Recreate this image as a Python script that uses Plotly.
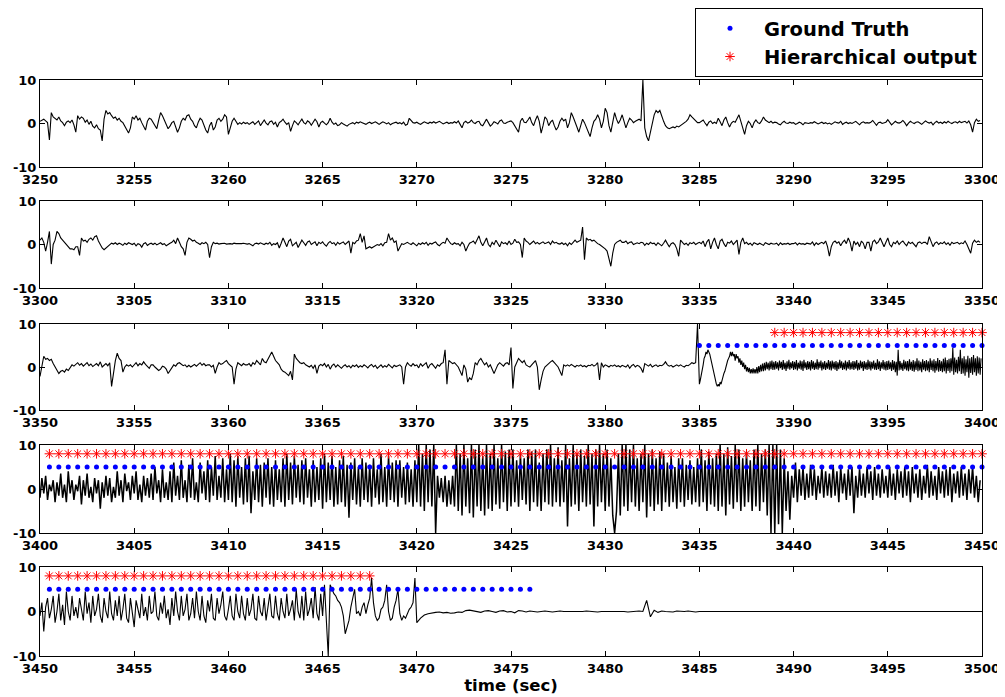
import numpy as np
import plotly.graph_objects as go

# ---------------- data ----------------
# Panel 1: 3250-3300 s, 10 samples/s
p1_start, p1_rate = 3250.0, 10
p1_vals = [
    0.5, 0.8, 1.0, 0.6, 0.2, -3.8, 2.5, 1.5, 1.2, 0.8,
    1.5, 0.6, 0.2, -0.5, 0.3, 0.6, 0.2, 0.8, -0.3, -2.0,
    1.8, 1.0, 1.5, 1.2, 0.3, 0.8, -0.2, 0.5, -0.6, -1.0,
    -0.3, -1.2, -1.5, -4.0, 1.0, 3.0, 2.2, 2.5, 1.8, 1.2,
    1.5, 0.8, 1.2, 0.5, 0.2, -0.5, -1.5, -2.2, -1.0, 1.5,
    1.0, 1.8, 0.8, 1.2, 0.2, -0.8, -1.5, 0.5, 1.2, 1.0,
    0.2, -0.5, -1.2, 0.8, 2.5, 1.8, 0.8, -0.3, -1.2, -0.6,
    0.2, 0.5, -0.8, -2.0, -1.0, 0.5, 1.2, 0.8, 1.8, 2.0,
    1.0, 0.5, -0.5, -1.0, 0.3, 1.2, 0.8, -0.5, -1.5, -2.2,
    -0.5, 0.3, -1.5, -0.8, 0.8, 1.2, 0.5, 1.0, 2.0, 1.5,
    -2.5, -1.0, 0.5, 1.2, 0.3, -0.2, 0.2, -0.1, 0.3, 0.0,
    0.2, -0.2, 0.1, 0.4, -0.2, 0.3, 0.6, -0.5, 0.2, 0.8,
    0.1, -0.3, 0.4, 0.6, -0.2, 0.3, -0.8, 0.2, 0.5, 1.0,
    0.3, -0.2, 0.2, -1.8, -0.5, 0.6, 0.2, -0.3, 0.4, 1.0,
    0.2, -0.1, 0.6, 0.3, -0.4, 0.2, 1.0, 0.4, -0.8, 0.2,
    0.5, 0.1, -0.3, 0.2, 1.2, 0.3, -0.2, 0.1, -0.5, -0.3,
    0.2, -0.1, -0.3, -0.6, -0.2, 0.0, 0.2, -0.1, 0.3, 0.1,
    0.4, 0.2, 0.0, -0.2, 0.1, 0.3, 0.0, 0.2, 0.4, 0.1,
    -0.2, 0.1, 0.4, 0.2, -0.1, 0.2, -0.3, 0.0, 0.2, 0.3,
    0.0, 0.2, -0.1, 0.3, -0.4, -0.2, 1.2, 0.6, 0.2, 0.1,
    0.3, 0.0, -0.2, 0.1, 0.4, 0.2, 0.0, 0.3, 0.1, 0.4,
    0.1, 0.3, 0.5, 0.2, -0.1, 0.1, 0.3, 0.0, 0.2, 0.1,
    0.4, 0.1, 0.6, -0.2, -1.0, 0.2, 0.5, 0.1, 0.3, 0.8,
    0.2, 0.0, 0.4, 0.5, -0.3, -0.5, 0.3, 1.0, 0.2, -0.6,
    -0.2, 0.4, 0.2, -0.1, 0.6, 0.8, 0.1, 0.0, 0.3, 0.5,
    0.6, 0.2, -0.5, -1.0, -2.0, 0.5, 1.2, 0.3, 0.2, 0.8,
    1.5, 0.2, -0.5, 0.8, 1.8, 0.5, -2.2, -0.5, 1.5, 1.0,
    -0.5, 0.3, 0.8, -0.5, -1.5, -0.8, 0.5, 1.2, 0.6, 1.0,
    -1.0, 0.2, 2.5, 1.5, 0.5, -0.8, -2.0, -0.5, 1.0, 0.2,
    -0.8, -2.0, -3.0, -1.0, 0.5, 1.0, 2.0, 1.0, -1.0, 0.5,
    3.5, 2.5, -0.5, -2.0, 0.5, 2.5, 1.0, 0.0, 0.8, 2.0,
    0.5, -1.0, 0.2, 1.2, 0.8, 0.2, 0.5, 0.8, 1.0, 0.6,
    10.0, -1.0, -3.0, -4.0, -2.0, 0.5, 2.0, 3.0, 2.5, 3.0,
    1.5, 0.5, -0.5, -1.0, -1.2, -1.0, -0.8, -1.0, -0.6, -0.8,
    -0.5, -0.2, 0.0, 0.5, 1.0, 2.0, 1.5, 1.0, 0.5, 0.2,
    0.2, 0.6, 0.8, 0.1, -0.5, 0.3, 0.6, 0.0, 0.3, 0.0,
    1.2, 0.4, -0.5, 0.8, 1.5, 0.2, -0.8, 0.1, 0.5, 0.3,
    1.0, 2.0, 0.5, -1.0, -2.5, -0.5, 0.5, 0.0, -1.0, 0.2,
    0.8, 0.2, 0.0, 0.6, 1.5, 0.8, 0.4, 0.2, 0.5, 0.1,
    0.3, 0.2, -0.1, -0.3, 0.2, 0.5, 0.1, 0.0, 0.3, 0.1,
    0.2, -0.2, 0.0, 0.3, 0.1, -0.3, 0.2, 0.1, 0.0, 0.2,
    0.1, 0.4, 0.2, -0.1, 0.1, 0.3, 0.0, 0.2, -0.1, 0.1,
    -0.2, 0.1, 0.4, 0.2, 0.1, 0.5, -0.2, 0.1, 0.3, 0.0,
    0.2, 0.0, 0.3, 0.5, 0.1, -0.3, 0.2, 0.4, 0.1, 0.2,
    0.1, 0.3, 0.7, 0.1, -0.4, 0.2, 0.3, 0.0, 0.1, 0.3,
    0.9, 0.3, -0.3, 0.1, 0.5, 0.2, 0.1, 0.3, 0.7, 0.2,
    -0.5, 0.1, 0.5, 0.2, 0.0, 0.3, 0.4, 0.1, -0.2, 0.2,
    0.6, 0.3, 0.1, 0.3, -0.3, 0.2, 0.5, 0.1, 0.3, 0.0,
    0.4, 0.1, 0.5, 0.2, 0.0, 0.3, 0.4, 0.1, 0.5, 0.2,
    0.3, 0.5, 0.1, 0.6, -0.3, -2.0, 0.2, 1.0, 0.5, 0.7,
]

# Panel 2: 3300-3350 s, 10 samples/s
p2_start, p2_rate = 3300.0, 10
p2_vals = [
    1.0, 1.5, 0.5, -1.5, 0.5, 3.0, -4.5, 0.0, 1.0, 3.0,
    2.5, 1.5, 1.0, 0.5, 0.0, -0.5, -1.0, -1.0, -1.2, -0.5,
    -0.5, -2.5, 1.5, 0.8, 1.0, 0.5, 1.2, 1.5, 1.0, 1.8,
    2.0, 0.8, 0.0, -0.8, -1.2, -0.8, -0.5, 0.0, 0.3, 0.1,
    0.4, 0.0, 0.3, 0.1, -0.2, 0.3, 0.0, 0.4, 0.2, 0.0,
    0.3, -0.3, 0.2, 0.0, -0.6, 0.2, 0.4, -0.2, 0.1, 0.3,
    0.0, 0.3, -0.1, 0.2, 0.4, 0.0, 0.2, -0.3, 0.1, 0.3,
    0.5, 1.0, 0.2, 1.5, 0.5, -0.5, -1.0, -2.5, 0.5, 1.5,
    1.2, 0.8, 1.0, 0.5, 0.3, 0.0, 0.4, 0.2, 0.5, 0.0,
    -3.0, -0.5, 0.5, 0.2, 0.3, 0.1, 0.2, 0.2, 0.3, 0.1,
    0.2, 0.2, 0.1, 0.3, 0.2, 0.2, 0.1, 0.2, 0.3, 0.2,
    0.1, 0.2, 0.0, -0.3, 0.2, 0.3, 0.1, 0.4, 0.2, 0.0,
    0.3, 0.1, 0.5, -0.2, 0.2, 0.0, 0.4, -0.8, 0.3, 1.5,
    0.5, -0.5, 0.8, 1.2, -0.3, 0.2, 0.5, -0.7, 0.3, 1.0,
    0.4, -0.2, 0.6, 0.8, 0.0, 0.3, 0.6, -0.3, 0.5, 0.2,
    0.6, 0.0, -0.4, 0.3, 0.7, 0.2, 0.4, -0.2, 0.5, 0.1,
    0.3, 0.6, 0.0, 0.4, 0.8, -2.0, 0.5, 0.2, 0.8, 1.0,
    2.5, 0.5, 2.0, -1.0, -0.8, -0.5, -0.8, -0.5, -0.3, 0.0,
    -0.2, 0.2, -0.3, 0.4, 0.5, 2.5, 1.0, 1.5, 0.5, 0.8,
    -1.5, -0.5, 0.2, 0.0, 0.3, 0.5, 0.2, 0.0, 0.4, 0.1,
    -0.3, 0.3, 0.0, 0.4, 0.1, 0.5, -0.2, 0.3, 0.1, 0.4,
    0.6, 0.0, -0.3, 0.2, 0.5, 0.3, 1.5, 0.8, 0.2, 0.0,
    0.4, 0.1, 0.2, -0.3, 0.5, 0.0, -1.5, -0.5, 0.3, 0.5,
    0.8, 0.2, 1.0, 2.0, 0.5, -0.3, 0.6, 1.5, 0.0, -0.5,
    0.5, 0.0, 1.0, 0.3, -0.5, 0.6, 0.2, 0.4, 0.0, 0.8,
    0.0, 0.3, 1.2, 0.5, 0.6, 0.0, -3.0, 1.5, 0.8, 0.5,
    0.0, 0.4, 0.8, 0.2, 0.5, 0.1, 0.3, 0.6, 0.2, 0.4,
    0.6, 0.0, 0.8, 0.3, 0.5, 0.2, 0.1, 0.4, 0.0, 0.3,
    -0.3, 0.4, 0.0, 0.5, 1.0, 0.5, 0.8, 1.0, 4.0, -3.5,
    1.5, 1.0, 1.2, 0.8, 1.0, 0.5, 0.2, 0.0, -0.3, -0.8,
    -1.0, -1.5, -3.0, -5.0, -2.0, 0.0, 0.5, 0.8, 1.0, 0.5,
    0.5, 0.8, 0.2, 0.5, 0.6, 0.0, 0.3, 0.4, 0.2, 0.5,
    0.4, -0.2, 0.3, 0.0, 0.5, 0.2, 0.3, -0.2, 0.4, 0.1,
    -0.3, 0.3, 1.0, 0.2, -0.5, 0.2, 0.4, 0.0, -1.0, -2.7,
    1.0, 0.5, 0.0, 0.3, -0.2, 0.4, 0.2, 0.5, 0.0, 0.3,
    0.5, 0.2, 0.8, -0.5, 0.6, 1.2, -1.0, 0.5, 1.5, 0.0,
    -1.0, 0.8, 1.2, 0.2, -0.5, 0.5, 0.3, 0.8, 0.0, 0.5,
    1.0, -2.3, 0.5, 1.5, 0.2, 0.5, 0.0, 0.3, -0.2, 0.4,
    0.2, 0.0, 0.3, 0.1, -0.2, 0.4, 0.2, 0.0, 0.3, 0.1,
    0.1, 0.3, -0.2, 0.4, 0.0, 0.2, 0.1, 0.3, 0.0, 0.2,
    0.2, 0.4, -0.1, 0.3, 0.1, 0.2, 0.0, 0.3, 0.2, 0.1,
    0.6, -0.2, 0.4, 0.0, 0.3, 0.5, 0.2, 0.8, -0.5, -2.7,
    -0.5, 0.5, 0.8, 0.3, 0.6, -0.3, 0.5, 1.0, 0.2, 1.5,
    0.5, -1.5, 0.8, 0.0, 0.5, -0.5, 0.8, 0.3, -1.0, 0.5,
    0.5, -1.5, 0.6, 1.0, 0.2, 0.6, 1.5, 0.3, -0.5, 0.5,
    1.5, 0.0, -0.5, 0.5, 0.2, 0.8, 0.0, 0.5, 0.8, 0.2,
    -0.3, 0.6, 0.2, 0.5, 0.0, -0.5, 0.4, 0.6, 0.2, 0.5,
    0.5, 0.0, 1.8, 0.8, -0.5, 0.3, 0.6, 0.0, 0.4, 0.2,
    0.6, 0.0, 0.4, -0.2, 0.5, 0.2, 0.3, 0.5, 0.1, 0.4,
    0.2, 0.8, 0.0, -1.0, -2.0, 0.3, 1.0, 0.5, 0.8, 0.5,
]

# Panel 3a: 3350-3385 s, 10 samples/s
p3a_start, p3a_rate = 3350.0, 10
p3a_vals = [
    -2.2, 0.5, 2.5, 1.8, 2.0, 1.5, 1.8, 0.8, 0.0, -1.0,
    -1.5, -1.0, -0.8, -1.2, -0.5, -0.8, 0.0, 0.5, 0.2, 0.6,
    1.0, 0.4, 0.8, 0.2, 0.6, 1.0, 0.3, 0.7, 0.1, 0.5,
    0.8, 0.3, 1.2, 0.0, 0.5, 0.8, 0.3, 1.0, -4.5, -1.0,
    1.5, 3.2, 2.0, 1.5, -1.2, 0.0, 0.5, 0.2, 0.5, 0.0,
    0.4, 1.0, 0.3, 0.8, 0.5, 1.2, 0.6, 0.2, -0.3, 0.5,
    0.5, 0.0, -0.3, -0.8, -0.5, 0.2, 0.0, -0.5, -1.5, -0.8,
    0.0, 0.5, 0.2, 0.8, 1.0, 0.6, 0.3, 0.5, 0.0, 0.4,
    0.0, 0.3, 0.6, 0.2, 0.5, 1.0, 0.4, 0.8, 0.3, 0.5,
    0.5, 0.0, 0.4, -1.5, 0.0, 1.0, 0.6, 0.8, 1.2, 1.5,
    0.8, 0.5, 0.0, -4.0, -0.5, 1.0, 0.6, 0.3, 0.8, 0.5,
    0.5, 0.8, 0.2, 1.0, 0.6, 1.5, 1.0, 0.5, 2.0, 1.2,
    1.0, 1.8, 2.5, 3.5, 2.5, 1.5, 1.0, 0.5, -0.5, -1.0,
    -1.2, -1.5, -2.0, -1.0, -3.0, 3.0, 2.0, 1.5, 1.0, 0.8,
    1.0, 0.5, 0.2, 0.0, 0.4, -0.3, 0.5, -1.5, 0.2, 0.6,
    0.3, 0.8, 0.0, 0.6, -0.5, 0.3, 0.7, 0.0, 0.5, 0.2,
    -0.3, 0.2, 0.5, 0.0, 0.3, -0.2, 0.4, 0.1, 0.5, -0.1,
    0.3, 0.0, 0.5, 0.2, -0.2, 0.3, 0.6, 0.0, 0.4, -0.3,
    0.2, 0.5, -0.1, 0.3, 0.0, 0.6, 0.2, -0.2, 0.4, 0.1,
    0.3, 0.5, 0.0, -4.0, 0.0, 1.0, 0.5, 0.2, 0.8, 0.3,
    0.5, -0.2, 0.8, 0.2, 0.6, 1.0, -0.3, 0.5, 0.8, 0.2,
    -0.3, 0.5, 0.2, 0.8, 1.0, 4.0, -4.0, 1.5, 1.2, 0.8,
    1.0, 0.5, 0.0, -1.0, -2.0, 0.5, -0.5, -3.5, -2.5, -3.0,
    -1.5, 1.0, 0.5, 1.5, 2.0, 1.2, 0.5, 1.0, 0.0, 0.5,
    -0.5, -1.5, -0.5, 0.5, 1.0, 0.5, 0.2, 0.8, 1.0, 0.5,
    4.5, -5.0, 0.0, 1.0, 2.0, 1.5, 1.0, 1.5, 0.5, 0.2,
    0.0, 0.5, 1.0, 1.5, 0.0, -5.3, -3.0, -1.0, 0.0, 0.5,
    0.8, 1.2, 1.5, 1.0, 0.5, 0.0, -1.0, -2.0, 0.5, 0.2,
    0.5, 0.2, 0.6, 0.3, 0.0, 0.4, 0.2, 0.5, 0.1, 0.3,
    0.0, 0.4, 0.3, 0.6, 0.2, 0.5, 1.0, -3.0, 1.0, 0.0,
    0.5, 0.3, 0.0, 0.4, 0.2, 0.5, 0.1, 0.3, 0.0, 0.4,
    0.2, 0.0, 0.5, -0.3, 0.3, 0.6, 0.0, 0.4, 0.2, -0.3,
    -1.3, 0.8, 0.5, 0.2, 0.6, 0.0, 0.3, 0.5, 0.1, 0.4,
    0.3, 0.6, 1.2, 0.5, 0.2, 0.4, 0.0, 0.3, 0.5, 0.2,
    0.5, 0.2, 0.0, 0.4, 0.3, 0.6, 1.0, 0.8, 1.0, 10.0,
]

# Panel 3b: 3385-3400 s, 20 samples/s
p3b_start, p3b_rate = 3385.0, 20
p3b_vals = [
    -4.0, -3.0, -2.0, -0.5, 0.5, 2.0, 2.5, 3.5, 3.0, 4.0, 3.5, 3.0, 2.0, 1.0, -0.5, -1.5, -2.5, -3.5, -4.0, -4.5,
    -4.0, -4.5, -3.5, -4.0, -3.0, -2.5, -1.5, -1.0, 0.0, 0.5, 1.5, 2.0, 2.5, 3.5, 2.5, 3.5, 2.5, 3.0, 1.5, 3.0,
    2.0, 2.5, 1.0, 2.0, 0.5, 1.5, 0.0, 1.0, -0.5, 0.5, -1.0, 0.0, -1.2, -0.2, -1.5, -0.5, -1.5, -0.3, -1.5, -0.5,
    -1.5, 0.0, -1.5, 0.2, -1.2, 0.5, -1.0, 0.8, -1.0, 1.0, -0.8, 1.2, -0.5, 1.0, -0.8, 1.3, -0.5, 1.5, -0.7, 1.2,
    -0.6, 1.4, -0.4, 1.1, -0.8, 1.5, -0.3, 1.2, -0.7, 1.6, -0.5, 1.0, -0.9, 1.3, -0.4, 1.7, -0.6, 1.1, -0.3, 1.4,
    -0.7, 1.2, -0.5, 1.6, -0.8, 1.0, -0.4, 1.5, -0.6, 1.3, -0.9, 1.7, -0.3, 1.1, -0.7, 1.4, -0.5, 1.2, -0.8, 1.6,
    -0.4, 1.3, -0.7, 1.0, -0.5, 1.8, -0.6, 1.2, -0.3, 1.5, -0.8, 1.1, -0.5, 1.4, -0.7, 1.0, -0.4, 1.6, -0.6, 1.3,
    -0.8, 1.5, -0.4, 1.2, -0.6, 1.4, -0.9, 1.1, -0.5, 1.7, -0.3, 1.3, -0.7, 1.0, -0.5, 1.5, -0.8, 1.2, -0.4, 1.6,
    -0.6, 1.1, -0.5, 1.4, -0.7, 1.3, -0.4, 1.6, -0.8, 1.0, -0.6, 1.5, -0.3, 1.2, -0.9, 1.4, -0.5, 1.1, -0.7, 1.7,
    -0.5, 1.3, -0.8, 1.2, -0.4, 1.5, -0.6, 1.0, -0.7, 1.8, -0.5, 1.3, -0.9, 1.1, -0.4, 1.6, -0.6, 1.2, -0.8, 1.4,
    -0.7, 1.5, -0.5, 1.1, -0.9, 1.6, -0.6, 1.3, -1.2, 1.2, -2.0, 4.0, -0.8, 1.4, -0.6, 1.0, -0.9, 1.7, -0.5, 1.3,
    -0.8, 1.4, -1.0, 1.8, -0.6, 1.2, -0.9, 1.6, -1.1, 1.3, -0.7, 2.0, -1.0, 1.5, -0.8, 1.2, -1.2, 1.8, -0.6, 1.4,
    -1.0, 1.6, -0.8, 1.3, -1.2, 2.0, -0.7, 1.5, -1.0, 1.8, -1.3, 1.4, -0.8, 2.1, -1.1, 1.6, -0.9, 1.3, -1.2, 1.9,
    -1.0, 2.2, -1.5, 1.6, -0.9, 1.9, -1.3, 2.0, -1.0, 4.5, -1.8, 2.2, -1.2, 1.7, -1.5, 2.4, -1.0, 4.0, -1.6, 2.0,
    -1.5, 2.5, -2.0, 1.8, -1.2, 2.6, -2.5, 2.0, -1.4, 2.3, -1.8, 2.8, -1.2, 2.0, -2.0, 2.5, -1.5, 2.2, -1.8, 2.0,
]

# Panel 4: 3400-3450 s, 10 samples/s
p4_start, p4_rate = 3400.0, 10
p4_vals = [
    -2.0, 2.5, -1.0, 3.0, -2.5, 1.0, -0.5, 2.0, -3.0, 1.5,
    -1.5, 3.5, -2.0, 1.0, -3.0, 4.0, -1.0, 2.0, -2.5, 1.0,
    -0.5, 3.0, -3.5, 2.0, -1.5, 3.5, -2.0, 0.5, -3.0, 2.5,
    -1.0, 2.0, -4.5, 1.5, -2.0, 3.0, -1.5, 2.5, -3.0, 0.5,
    -2.0, 4.0, -1.5, 2.0, -3.0, 3.5, -0.5, 1.5, -2.5, 3.0,
    -1.0, 4.0, -2.5, 1.0, -3.0, 3.0, -1.5, 2.5, -2.0, 3.5,
    -2.5, 5.0, -1.0, 2.0, -3.0, 4.5, -2.0, 1.5, -2.5, 4.0,
    -3.0, 6.0, -1.5, 3.0, -2.5, 6.5, -2.0, 2.0, -3.0, 5.5,
    -2.0, 7.0, -2.5, 1.5, -3.0, 6.0, -1.0, 4.0, -2.5, 6.5,
    -3.0, 5.0, -1.5, 7.5, -2.5, 3.0, -2.0, 7.0, -3.0, 4.5,
    -2.5, 8.0, -3.0, 6.5, -4.0, 7.5, -2.0, 5.0, -3.5, 7.0,
    -3.0, 7.5, -5.5, 4.0, -2.5, 7.0, -3.0, 5.5, -4.0, 6.0,
    -2.0, 7.0, -3.5, 5.0, -4.0, 6.5, -2.5, 4.5, -3.0, 7.0,
    -4.0, 8.0, -2.5, 6.0, -3.5, 7.5, -2.0, 5.5, -3.0, 6.5,
    -3.5, 7.0, -2.0, 4.5, -4.0, 6.5, -3.0, 5.0, -2.5, 7.0,
    -4.5, 8.0, -3.0, 6.0, -2.5, 7.5, -4.0, 5.0, -3.5, 6.5,
    -3.0, 7.5, -4.0, 5.5, -6.5, 6.0, -2.5, 7.0, -3.5, 5.0,
    -4.0, 7.0, -2.5, 6.0, -3.0, 5.5, -4.0, 7.0, -2.0, 4.5,
    -3.5, 8.0, -3.0, 5.0, -4.0, 7.5, -2.5, 6.0, -3.0, 6.5,
    -4.0, 6.5, -2.0, 5.0, -3.5, 6.0, -3.0, 4.5, -4.0, 6.5,
    -3.0, 10.0, -4.0, 8.0, -5.0, 10.0, -3.0, 9.0, -4.0, 10.0,
    -10.0, 3.0, -2.0, 2.5, -3.0, 3.0, -4.0, 2.0, -3.5, 3.0,
    -4.0, 10.0, -5.0, 8.0, -6.0, 10.0, -4.0, 7.0, -5.5, 10.0,
    -6.5, 9.0, -4.0, 10.0, -5.0, 7.5, -6.0, 10.0, -4.5, 8.0,
    -5.0, 10.0, -3.5, 7.0, -4.5, 10.0, -3.0, 8.5, -5.0, 9.0,
    -4.0, 9.0, -3.0, 6.5, -4.0, 8.0, -2.5, 7.0, -3.5, 9.0,
    -5.0, 8.5, -3.0, 9.0, -4.0, 6.0, -5.0, 8.0, -3.0, 9.0,
    -3.5, 10.0, -4.0, 7.0, -3.0, 9.5, -4.0, 6.5, -3.0, 10.0,
    -8.5, 7.0, -4.0, 10.0, -3.5, 8.0, -5.0, 9.0, -3.0, 7.5,
    -4.0, 10.0, -3.5, 8.0, -8.5, 9.0, -4.0, 10.0, -3.0, 8.0,
    -5.0, 9.0, -4.0, 7.0, -6.0, -10.0, -5.0, 8.0, -6.0, 10.0,
    -4.0, 10.0, -5.0, 9.0, -3.0, 10.0, -4.0, 7.0, -5.0, 8.0,
    -3.0, 10.0, -6.5, 8.0, -4.0, 9.0, -5.0, 7.0, -3.5, 8.5,
    -5.0, 8.0, -3.0, 6.0, -4.0, 7.5, -3.0, 5.0, -4.5, 7.0,
    -3.0, 7.0, -4.0, 5.5, -2.5, 6.5, -3.5, 5.0, -3.0, 7.0,
    -4.0, 9.0, -3.0, 6.5, -5.0, 8.5, -3.5, 7.0, -4.0, 8.0,
    -5.0, 10.0, -4.0, 8.0, -6.0, 9.5, -3.5, 7.5, -4.5, 10.0,
    -3.0, 9.0, -5.0, 7.0, -4.0, 8.5, -3.0, 6.5, -5.0, 9.0,
    -4.0, 10.0, -5.0, 8.0, -3.0, 9.0, -6.0, 10.0, -10.0, 10.0,
    -10.0, 10.0, -8.0, 9.0, -10.0, 7.0, -5.0, 4.0, -7.0, 3.0,
    -2.0, 6.0, -3.0, 4.5, -1.5, 5.0, -2.5, 3.5, -2.0, 5.5,
    -1.5, 4.5, -2.5, 3.0, -1.0, 5.0, -2.0, 4.0, -1.5, 3.5,
    -2.0, 5.5, -1.5, 4.0, -3.0, 5.0, -1.0, 3.5, -2.5, 4.5,
    -1.5, 5.0, -5.5, 3.0, -2.0, 4.5, -1.5, 3.5, -2.0, 5.0,
    -1.0, 4.0, -2.5, 5.0, -1.5, 3.5, -2.0, 4.5, -1.0, 3.0,
    -2.0, 5.0, -1.5, 3.5, -2.5, 4.5, -1.0, 4.0, -2.0, 5.0,
    -1.5, 4.0, -3.0, 5.0, -1.0, 3.5, -2.0, 4.5, -2.5, 3.0,
    -1.0, 5.5, -2.0, 4.0, -1.5, 3.0, -2.5, 5.0, -1.0, 4.0,
    -2.0, 4.5, -1.5, 5.0, -3.0, 3.5, -1.0, 4.0, -2.0, 5.0,
    -1.5, 3.5, -2.5, 4.5, -1.0, 5.0, -2.0, 3.0, -3.0, 2.0,
]

# Panel 5a: 3450-3470 s, 10 samples/s
p5a_start, p5a_rate = 3450.0, 10
p5a_vals = [
    -1.0, 2.0, -4.5, 1.0, 3.0, -1.5, 0.5, 3.5, -2.5, 0.0,
    4.0, -2.0, 1.5, -3.0, 4.5, 0.0, -2.0, 3.5, -1.0, 1.0,
    -1.5, 3.0, 0.5, -2.0, 4.5, -0.5, 2.0, -2.5, 3.5, -1.0,
    0.5, 4.0, -1.0, -2.5, 3.0, 0.0, -1.5, 4.5, -0.5, -2.0,
    2.5, -1.0, 3.5, -2.0, 0.5, 4.0, -1.5, -2.5, 3.0, -0.5,
    -3.5, 2.5, 0.0, -1.5, 4.0, -1.0, 1.0, -2.0, 3.5, -0.5,
    0.0, 4.5, -1.0, -2.0, 2.0, -0.5, 3.5, -1.5, 0.5, -3.0,
    3.0, -1.0, 4.5, 0.0, -2.0, 3.5, -1.0, 0.5, 4.0, -2.0,
    -0.5, 3.0, -1.5, 4.5, 0.0, -2.0, 3.5, -1.0, -2.5, 2.5,
    0.0, 4.0, -1.5, -2.0, 3.0, -0.5, 1.5, 4.5, -1.0, -2.0,
    0.5, 3.5, -1.0, -2.0, 4.0, 0.0, -1.5, 3.5, -0.5, -2.0,
    3.0, -1.0, 0.5, 4.0, -1.5, -2.0, 3.5, 0.0, -1.0, 3.0,
    -2.0, 0.5, 4.0, -1.0, -1.5, 3.5, -0.5, -2.0, 3.0, 0.0,
    -1.5, 4.0, -1.0, 0.5, 2.5, -2.0, 5.0, 0.0, -1.5, 3.5,
    -2.0, 4.5, -1.0, 0.5, 3.0, -1.5, 5.5, -0.5, -2.0, 4.0,
    -1.0, 6.0, -2.0, -10.0, 6.0, 5.0, 4.0, 3.5, 2.5, 2.0,
    1.0, -1.0, -5.0, -3.5, -2.0, 1.0, 3.0, 5.0, -0.5, 0.0,
    -1.0, 1.0, 2.0, -0.5, 1.5, 3.0, 7.5, 2.0, -1.0, -2.0,
    -1.5, 0.5, 1.0, 2.5, 6.0, 0.0, -2.0, -1.5, 1.0, 2.5,
    5.0, -0.5, -2.0, -1.0, -1.5, -0.5, 0.5, 1.0, 2.0, 7.5,
]

# Panel 5b: 3470-3500 s, 5 samples/s
p5b_start, p5b_rate = 3470.0, 5
p5b_vals = [
    -2.5, -1.5, -0.8, -0.5, -0.3, -0.2, -0.1, -0.3, -0.2, -0.4,
    -0.3, -0.1, -0.2, 0.2, 0.3, 0.1, 0.0, -0.2, 0.1, 0.2,
    0.0, -0.2, 0.1, 0.2, -0.1, 0.0, -0.3, 0.2, 0.1, -0.1,
    0.1, 0.0, -0.1, 0.0, 0.1, 0.0, -0.1, 0.0, 0.1, 0.0,
    0.0, 0.0, -0.1, 0.0, 0.0, 0.1, 0.0, 0.0, -0.1, 0.0,
    0.0, 0.0, 0.1, 0.0, 0.0, 0.0, -0.1, 0.0, 0.0, 0.1,
    0.0, 2.5, -1.2, 0.3, -0.2, 0.1, 0.0, 0.0, -0.1, 0.1,
    0.0, 0.0, 0.1, 0.0, -0.1, 0.0, 0.0, 0.0, 0.1, 0.0,
    0.0, 0.0, 0.0, 0.0, 0.0, 0.0, 0.0, 0.0, 0.0, 0.0,
    0.0, 0.0, 0.0, 0.0, 0.0, 0.0, 0.0, 0.0, 0.0, 0.0,
    0.0, 0.0, 0.0, 0.0, 0.0, 0.0, 0.0, 0.0, 0.0, 0.0,
    0.0, 0.0, 0.0, 0.0, 0.0, 0.0, 0.0, 0.0, 0.0, 0.0,
    0.0, 0.0, 0.0, 0.0, 0.0, 0.0, 0.0, 0.0, 0.0, 0.0,
    0.0, 0.0, 0.0, 0.0, 0.0, 0.0, 0.0, 0.0, 0.0, 0.0,
    0.0, 0.0, 0.0, 0.0, 0.0, 0.0, 0.0, 0.0, 0.0, 0.0,
]

# Label intervals (one marker every 0.5 s) and their plotting levels
gt_intervals = [(3385.0, 3400.0), (3400.5, 3450.0), (3450.5, 3476.0)]
hier_intervals = [(3389.0, 3400.0), (3400.5, 3450.0), (3450.5, 3467.5)]
label_step = 0.5
gt_level = 5
hier_level = 8

panel_ranges = [(3250, 3300), (3300, 3350), (3350, 3400), (3400, 3450), (3450, 3500)]
x_tick_step = 5
y_ticks = [-10, 0, 10]

# ---------------- figure ----------------
signal_segments = {
    1: [(p1_start, p1_rate, p1_vals)],
    2: [(p2_start, p2_rate, p2_vals)],
    3: [(p3a_start, p3a_rate, p3a_vals), (p3b_start, p3b_rate, p3b_vals)],
    4: [(p4_start, p4_rate, p4_vals)],
    5: [(p5a_start, p5a_rate, p5a_vals), (p5b_start, p5b_rate, p5b_vals)],
}
line_widths = {1: 1.1, 2: 1.1, 3: 1.1, 4: 1.5, 5: 1.1}

fig = go.Figure()

for row, segs in signal_segments.items():
    ts, vs = [], []
    for start, rate, vals in segs:
        v = np.asarray(vals, dtype=float)
        ts.append(start + np.arange(len(v)) / rate)
        vs.append(v)
    fig.add_trace(go.Scatter(
        x=np.concatenate(ts), y=np.concatenate(vs), mode="lines",
        line=dict(color="black", width=line_widths[row]),
        xaxis=f"x{row}", yaxis=f"y{row}", showlegend=False, hoverinfo="skip"))


def add_labels(intervals, level, name, marker):
    first = True
    for (a, b) in intervals:
        t = np.arange(a, b + 1e-6, label_step)
        row = 1
        for i, (lo, hi) in enumerate(panel_ranges):
            if lo <= a < hi:
                row = i + 1
        fig.add_trace(go.Scatter(
            x=t, y=[level] * len(t), mode="markers", marker=marker,
            name=name, legendgroup=name, showlegend=first, cliponaxis=False,
            xaxis=f"x{row}", yaxis=f"y{row}", hoverinfo="skip"))
        first = False


add_labels(gt_intervals, gt_level, "Ground Truth",
           dict(color="blue", size=5, symbol="circle"))
add_labels(hier_intervals, hier_level, "Hierarchical output",
           dict(color="red", size=8, symbol="asterisk-open",
                line=dict(color="red", width=1)))

# page is offset by the 8px body margin; work in figure pixels
W, H = 997, 689
plot_left, plot_right = 32, 974
plot_top, plot_bot = 72, 648
span = plot_bot - plot_top
panel_px = [(72, 159), (193, 280), (316, 402), (437, 525), (559, 648)]

FONT = "DejaVu Sans, Verdana, sans-serif"
tick_font = dict(family=FONT, size=13, color="black", weight="bold")

layout = dict(
    width=W, height=H,
    paper_bgcolor="white", plot_bgcolor="white",
    margin=dict(l=plot_left, r=W - plot_right, t=plot_top, b=H - plot_bot,
                autoexpand=False),
    font=tick_font,
    showlegend=True,
    legend=dict(
        x=(975 - plot_left) / (plot_right - plot_left), y=(plot_bot - 0) / span,
        xanchor="right", yanchor="top",
        bordercolor="black", borderwidth=1, bgcolor="white",
        font=dict(family=FONT, size=19.5, color="black", weight="bold"),
        itemwidth=58, tracegroupgap=0,
    ),
)

for i, ((lo, hi), (ptop, pbot)) in enumerate(zip(panel_ranges, panel_px)):
    k = i + 1
    tv = list(range(lo, hi + 1, x_tick_step))
    xa = dict(
        domain=[0, 1], range=[lo, hi], anchor=f"y{k}", automargin=False,
        tickmode="array", tickvals=tv, ticktext=[str(v) for v in tv],
        ticks="inside", ticklen=5, tickcolor="black", tickwidth=1,
        showline=True, linecolor="black", linewidth=1, mirror="ticks",
        showgrid=False, zeroline=False, tickfont=tick_font,
    )
    ya = dict(
        domain=[(plot_bot - pbot) / span, (plot_bot - ptop) / span],
        range=[-10, 10], anchor=f"x{k}", automargin=False,
        tickmode="array", tickvals=y_ticks, ticktext=[str(v) for v in y_ticks],
        ticks="inside", ticklen=5, tickcolor="black", tickwidth=1,
        showline=True, linecolor="black", linewidth=1, mirror="ticks",
        showgrid=False, zeroline=False, tickfont=tick_font,
    )
    if k == 5:
        xa["title"] = dict(text="time (sec)", standoff=1,
                           font=dict(family=FONT, size=16.5, color="black",
                                     weight="bold"))
    layout["xaxis" if k == 1 else f"xaxis{k}"] = xa
    layout["yaxis" if k == 1 else f"yaxis{k}"] = ya

fig.update_layout(**layout)
fig.write_html("out.html")
